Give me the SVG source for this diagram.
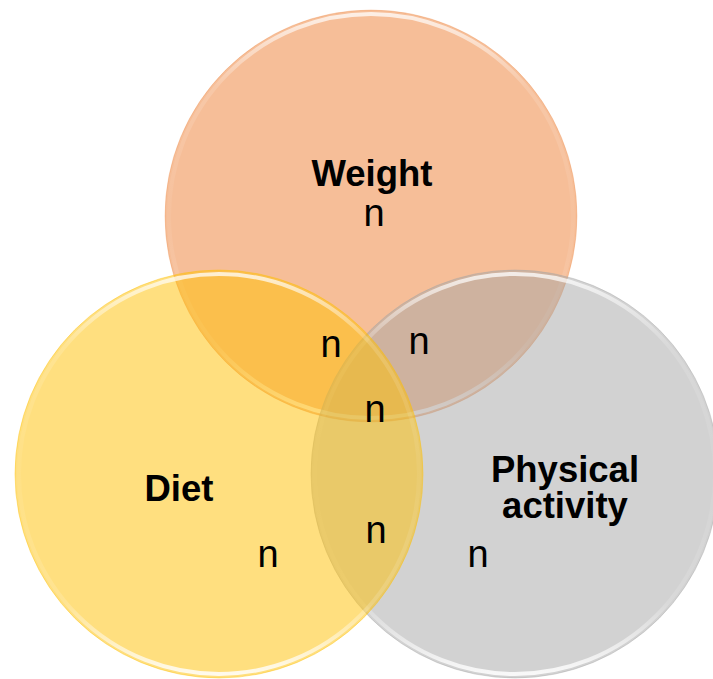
<svg xmlns="http://www.w3.org/2000/svg" width="713" height="679" viewBox="0 0 713 679">
  <style>
    .lbl { font-family: "Liberation Sans", Arial, sans-serif; font-weight: bold; font-size: 36.5px; fill: #000; text-anchor: middle; }
    .n { font-family: "Liberation Sans", Arial, sans-serif; font-size: 38px; fill: #000; text-anchor: middle; }
    .bevel { fill: none; stroke: url(#shine); stroke-width: 4; }
  </style>
  <defs>
    <linearGradient id="shine" x1="0" y1="0" x2="0" y2="1">
      <stop offset="0" stop-color="#fff" stop-opacity="0.75"/>
      <stop offset="0.18" stop-color="#fff" stop-opacity="0.15"/>
      <stop offset="0.5" stop-color="#fff" stop-opacity="0.05"/>
      <stop offset="0.82" stop-color="#fff" stop-opacity="0.15"/>
      <stop offset="1" stop-color="#fff" stop-opacity="0.85"/>
    </linearGradient>
  </defs>
  <rect width="713" height="679" fill="#fff"/>
  <g id="weight">
    <circle cx="371" cy="216" r="206" fill="#ED7D31" fill-opacity="0.5" stroke="#ED7D31" stroke-opacity="0.25" stroke-width="1"/>
    <circle class="bevel" cx="371" cy="216" r="202"/>
  </g>
  <g id="physical-activity">
    <circle cx="515" cy="474" r="204" fill="#A5A5A5" fill-opacity="0.5" stroke="#A5A5A5" stroke-opacity="0.4" stroke-width="1"/>
    <circle class="bevel" cx="515" cy="474" r="200"/>
  </g>
  <g id="diet">
    <circle cx="219" cy="474" r="204" fill="#FFC000" fill-opacity="0.5" stroke="#FFC000" stroke-opacity="0.4" stroke-width="1"/>
    <circle class="bevel" cx="219" cy="474" r="200"/>
  </g>
  <g id="labels">
    <text class="lbl" x="372" y="186">Weight</text>
    <text class="lbl" x="179" y="501">Diet</text>
    <text class="lbl" x="565" y="482">Physical</text>
    <text class="lbl" x="565" y="518">activity</text>
    <text class="n" x="374" y="226">n</text>
    <text class="n" x="331" y="357">n</text>
    <text class="n" x="419" y="354">n</text>
    <text class="n" x="375" y="422">n</text>
    <text class="n" x="376" y="543">n</text>
    <text class="n" x="268" y="567">n</text>
    <text class="n" x="478" y="567">n</text>
  </g>
  <g id="connectors"></g>
</svg>
